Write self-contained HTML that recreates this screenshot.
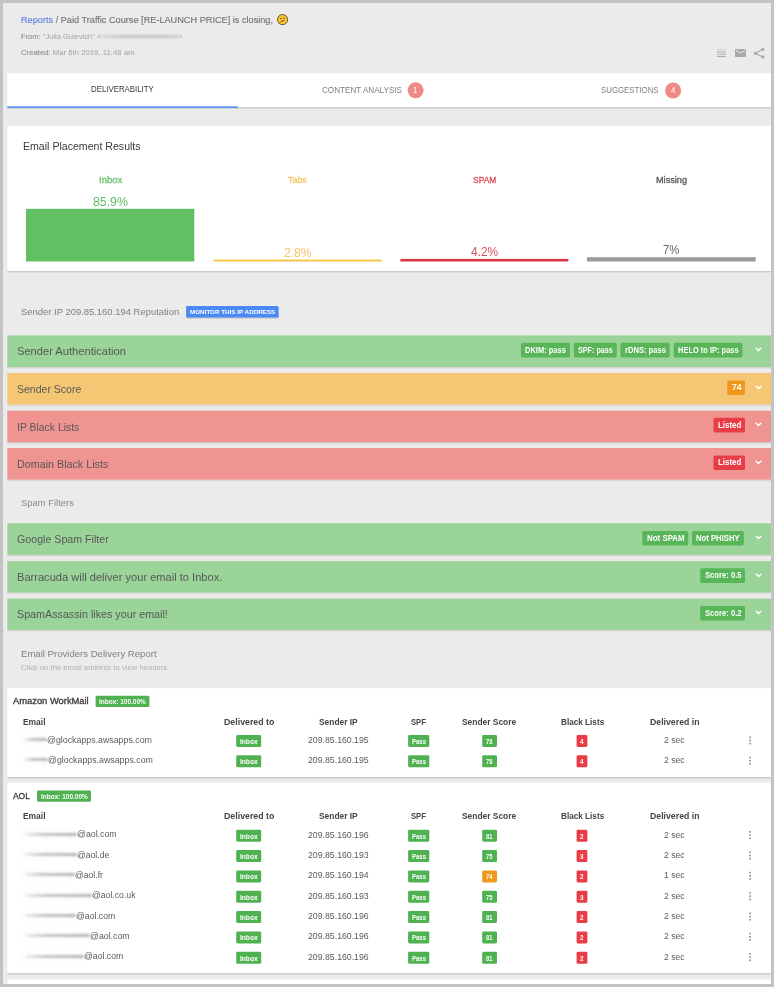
<!DOCTYPE html>
<html><head><meta charset="utf-8"><title>Report</title>
<style>
html,body{margin:0;padding:0}
body{width:774px;height:987px;overflow:hidden;background:#c3c3c3;font-family:"Liberation Sans", sans-serif;position:relative}
#p{position:absolute;left:3px;top:3px;width:768px;height:981px;overflow:hidden;background:#ebebeb}
#q{position:absolute;left:-3px;top:-3px;width:774px;height:987px;filter:blur(0.35px)}
#q div,#q svg,#q span{position:absolute}
#q span{white-space:pre;line-height:1;transform-origin:0 0}
#q span span{position:static;transform:none}
</style></head><body>
<div id="p"><div id="q">
<svg style="left:0;top:0" width="774" height="987" viewBox="0 0 774 987">
<rect x="7.35" y="106.10" width="764.65" height="2.1" fill="#000" fill-opacity="0.100"/>
<rect x="7.35" y="107.10" width="764.65" height="2.1" fill="#000" fill-opacity="0.042"/>
<rect x="7.35" y="73.10" width="764.65" height="34.00" fill="#fff"/>
<rect x="7.35" y="106.30" width="230.45" height="1.80" fill="#5f92ee"/>
<circle cx="415.6" cy="90.3" r="8" fill="#ef8b87"/>
<circle cx="673.1" cy="90.5" r="8" fill="#ef8b87"/>
<rect x="7.35" y="270.00" width="764.65" height="2.1" fill="#000" fill-opacity="0.100"/>
<rect x="7.35" y="271.00" width="764.65" height="2.1" fill="#000" fill-opacity="0.042"/>
<rect x="7.35" y="126.00" width="764.65" height="145.00" fill="#fff"/>
<rect x="26.00" y="208.80" width="168.30" height="52.70" fill="#61c062"/>
<rect x="213.40" y="259.60" width="168.30" height="1.90" fill="#f5c242"/>
<rect x="400.40" y="258.90" width="168.00" height="2.60" fill="#dc3545"/>
<rect x="587.00" y="257.20" width="168.70" height="4.30" fill="#9b9b9b"/>
<rect x="186.1" y="307.3" width="92.5" height="11.4" rx="1.2" fill="#000" fill-opacity="0.13"/>
<rect x="186.10" y="306.10" width="92.50" height="11.40" rx="1.2" fill="#4a8af4"/>
<rect x="7.35" y="366.00" width="764.65" height="2.1" fill="#000" fill-opacity="0.075"/>
<rect x="7.35" y="367.00" width="764.65" height="2.1" fill="#000" fill-opacity="0.032"/>
<rect x="7.35" y="335.40" width="764.65" height="31.60" fill="#9ad499"/>
<rect x="520.90" y="342.80" width="49.10" height="14.60" rx="1.6" fill="#58b558"/>
<rect x="573.80" y="342.80" width="43.00" height="14.60" rx="1.6" fill="#58b558"/>
<rect x="620.50" y="342.80" width="49.10" height="14.60" rx="1.6" fill="#58b558"/>
<rect x="673.70" y="342.80" width="68.80" height="14.60" rx="1.6" fill="#58b558"/>
<rect x="7.35" y="403.60" width="764.65" height="2.1" fill="#000" fill-opacity="0.075"/>
<rect x="7.35" y="404.60" width="764.65" height="2.1" fill="#000" fill-opacity="0.032"/>
<rect x="7.35" y="373.00" width="764.65" height="31.60" fill="#f5c774"/>
<rect x="727.20" y="380.50" width="17.80" height="14.50" rx="1.6" fill="#f0981e"/>
<rect x="7.35" y="441.20" width="764.65" height="2.1" fill="#000" fill-opacity="0.075"/>
<rect x="7.35" y="442.20" width="764.65" height="2.1" fill="#000" fill-opacity="0.032"/>
<rect x="7.35" y="410.70" width="764.65" height="31.50" fill="#ef9491"/>
<rect x="713.50" y="417.80" width="31.50" height="14.60" rx="1.6" fill="#e83d47"/>
<rect x="7.35" y="478.60" width="764.65" height="2.1" fill="#000" fill-opacity="0.075"/>
<rect x="7.35" y="479.60" width="764.65" height="2.1" fill="#000" fill-opacity="0.032"/>
<rect x="7.35" y="448.00" width="764.65" height="31.60" fill="#ef9491"/>
<rect x="713.50" y="455.40" width="31.50" height="14.60" rx="1.6" fill="#e83d47"/>
<rect x="7.35" y="553.80" width="764.65" height="2.1" fill="#000" fill-opacity="0.075"/>
<rect x="7.35" y="554.80" width="764.65" height="2.1" fill="#000" fill-opacity="0.032"/>
<rect x="7.35" y="523.30" width="764.65" height="31.50" fill="#9ad499"/>
<rect x="642.30" y="530.90" width="45.90" height="14.50" rx="1.6" fill="#58b558"/>
<rect x="692.00" y="530.90" width="51.80" height="14.50" rx="1.6" fill="#58b558"/>
<rect x="7.35" y="591.40" width="764.65" height="2.1" fill="#000" fill-opacity="0.075"/>
<rect x="7.35" y="592.40" width="764.65" height="2.1" fill="#000" fill-opacity="0.032"/>
<rect x="7.35" y="561.10" width="764.65" height="31.30" fill="#9ad499"/>
<rect x="700.20" y="568.30" width="44.80" height="14.70" rx="1.6" fill="#58b558"/>
<rect x="7.35" y="629.00" width="764.65" height="2.1" fill="#000" fill-opacity="0.075"/>
<rect x="7.35" y="630.00" width="764.65" height="2.1" fill="#000" fill-opacity="0.032"/>
<rect x="7.35" y="598.60" width="764.65" height="31.40" fill="#9ad499"/>
<rect x="700.20" y="605.90" width="44.80" height="14.60" rx="1.6" fill="#58b558"/>
<rect x="7.35" y="776.00" width="764.65" height="2.1" fill="#000" fill-opacity="0.100"/>
<rect x="7.35" y="777.00" width="764.65" height="2.1" fill="#000" fill-opacity="0.042"/>
<rect x="7.35" y="688.10" width="764.65" height="88.90" fill="#fff"/>
<rect x="95.60" y="695.80" width="53.80" height="11.30" rx="1.4" fill="#4fb150"/>
<rect x="236.20" y="735.00" width="25.00" height="12.00" rx="1.4" fill="#4fb150"/>
<rect x="408.10" y="735.00" width="21.20" height="12.00" rx="1.4" fill="#4fb150"/>
<rect x="482.20" y="735.00" width="14.80" height="12.00" rx="1.4" fill="#4fb150"/>
<rect x="576.60" y="735.00" width="10.80" height="12.00" rx="1.4" fill="#e83d47"/>
<rect x="749.25" y="736.35" width="1.7" height="1.7" fill="#939393"/>
<rect x="749.25" y="739.55" width="1.7" height="1.7" fill="#939393"/>
<rect x="749.25" y="742.75" width="1.7" height="1.7" fill="#939393"/>
<rect x="236.20" y="755.35" width="25.00" height="12.00" rx="1.4" fill="#4fb150"/>
<rect x="408.10" y="755.35" width="21.20" height="12.00" rx="1.4" fill="#4fb150"/>
<rect x="482.20" y="755.35" width="14.80" height="12.00" rx="1.4" fill="#4fb150"/>
<rect x="576.60" y="755.35" width="10.80" height="12.00" rx="1.4" fill="#e83d47"/>
<rect x="749.25" y="756.70" width="1.7" height="1.7" fill="#939393"/>
<rect x="749.25" y="759.90" width="1.7" height="1.7" fill="#939393"/>
<rect x="749.25" y="763.10" width="1.7" height="1.7" fill="#939393"/>
<rect x="7.35" y="972.10" width="764.65" height="2.1" fill="#000" fill-opacity="0.100"/>
<rect x="7.35" y="973.10" width="764.65" height="2.1" fill="#000" fill-opacity="0.042"/>
<rect x="7.35" y="782.80" width="764.65" height="190.30" fill="#fff"/>
<rect x="37.00" y="790.50" width="54.00" height="11.30" rx="1.4" fill="#4fb150"/>
<rect x="236.20" y="829.70" width="25.00" height="12.00" rx="1.4" fill="#4fb150"/>
<rect x="408.10" y="829.70" width="21.20" height="12.00" rx="1.4" fill="#4fb150"/>
<rect x="482.20" y="829.70" width="14.80" height="12.00" rx="1.4" fill="#4fb150"/>
<rect x="576.60" y="829.70" width="10.80" height="12.00" rx="1.4" fill="#e83d47"/>
<rect x="749.25" y="831.05" width="1.7" height="1.7" fill="#939393"/>
<rect x="749.25" y="834.25" width="1.7" height="1.7" fill="#939393"/>
<rect x="749.25" y="837.45" width="1.7" height="1.7" fill="#939393"/>
<rect x="236.20" y="850.05" width="25.00" height="12.00" rx="1.4" fill="#4fb150"/>
<rect x="408.10" y="850.05" width="21.20" height="12.00" rx="1.4" fill="#4fb150"/>
<rect x="482.20" y="850.05" width="14.80" height="12.00" rx="1.4" fill="#4fb150"/>
<rect x="576.60" y="850.05" width="10.80" height="12.00" rx="1.4" fill="#e83d47"/>
<rect x="749.25" y="851.40" width="1.7" height="1.7" fill="#939393"/>
<rect x="749.25" y="854.60" width="1.7" height="1.7" fill="#939393"/>
<rect x="749.25" y="857.80" width="1.7" height="1.7" fill="#939393"/>
<rect x="236.20" y="870.40" width="25.00" height="12.00" rx="1.4" fill="#4fb150"/>
<rect x="408.10" y="870.40" width="21.20" height="12.00" rx="1.4" fill="#4fb150"/>
<rect x="482.20" y="870.40" width="14.80" height="12.00" rx="1.4" fill="#f0981e"/>
<rect x="576.60" y="870.40" width="10.80" height="12.00" rx="1.4" fill="#e83d47"/>
<rect x="749.25" y="871.75" width="1.7" height="1.7" fill="#939393"/>
<rect x="749.25" y="874.95" width="1.7" height="1.7" fill="#939393"/>
<rect x="749.25" y="878.15" width="1.7" height="1.7" fill="#939393"/>
<rect x="236.20" y="890.75" width="25.00" height="12.00" rx="1.4" fill="#4fb150"/>
<rect x="408.10" y="890.75" width="21.20" height="12.00" rx="1.4" fill="#4fb150"/>
<rect x="482.20" y="890.75" width="14.80" height="12.00" rx="1.4" fill="#4fb150"/>
<rect x="576.60" y="890.75" width="10.80" height="12.00" rx="1.4" fill="#e83d47"/>
<rect x="749.25" y="892.10" width="1.7" height="1.7" fill="#939393"/>
<rect x="749.25" y="895.30" width="1.7" height="1.7" fill="#939393"/>
<rect x="749.25" y="898.50" width="1.7" height="1.7" fill="#939393"/>
<rect x="236.20" y="911.10" width="25.00" height="12.00" rx="1.4" fill="#4fb150"/>
<rect x="408.10" y="911.10" width="21.20" height="12.00" rx="1.4" fill="#4fb150"/>
<rect x="482.20" y="911.10" width="14.80" height="12.00" rx="1.4" fill="#4fb150"/>
<rect x="576.60" y="911.10" width="10.80" height="12.00" rx="1.4" fill="#e83d47"/>
<rect x="749.25" y="912.45" width="1.7" height="1.7" fill="#939393"/>
<rect x="749.25" y="915.65" width="1.7" height="1.7" fill="#939393"/>
<rect x="749.25" y="918.85" width="1.7" height="1.7" fill="#939393"/>
<rect x="236.20" y="931.45" width="25.00" height="12.00" rx="1.4" fill="#4fb150"/>
<rect x="408.10" y="931.45" width="21.20" height="12.00" rx="1.4" fill="#4fb150"/>
<rect x="482.20" y="931.45" width="14.80" height="12.00" rx="1.4" fill="#4fb150"/>
<rect x="576.60" y="931.45" width="10.80" height="12.00" rx="1.4" fill="#e83d47"/>
<rect x="749.25" y="932.80" width="1.7" height="1.7" fill="#939393"/>
<rect x="749.25" y="936.00" width="1.7" height="1.7" fill="#939393"/>
<rect x="749.25" y="939.20" width="1.7" height="1.7" fill="#939393"/>
<rect x="236.20" y="951.80" width="25.00" height="12.00" rx="1.4" fill="#4fb150"/>
<rect x="408.10" y="951.80" width="21.20" height="12.00" rx="1.4" fill="#4fb150"/>
<rect x="482.20" y="951.80" width="14.80" height="12.00" rx="1.4" fill="#4fb150"/>
<rect x="576.60" y="951.80" width="10.80" height="12.00" rx="1.4" fill="#e83d47"/>
<rect x="749.25" y="953.15" width="1.7" height="1.7" fill="#939393"/>
<rect x="749.25" y="956.35" width="1.7" height="1.7" fill="#939393"/>
<rect x="749.25" y="959.55" width="1.7" height="1.7" fill="#939393"/>
<rect x="7.35" y="979.60" width="764.65" height="5.40" fill="#fff"/>
</svg>
<div style="left:101.5px;top:34.5px;width:77px;height:3px;background:linear-gradient(90deg,#d2d2d2,#c6c6c6 30%,#c4c4c4 80%,#cdcdcd);border-radius:2px;filter:blur(0.9px)"></div>
<div style="left:20.5px;top:733.40px;width:26.50px;height:12.4px;background:#fdfdfd;filter:blur(0.6px)"></div>
<div style="left:24.5px;top:737.90px;width:22.00px;height:3px;background:linear-gradient(90deg,#ededed,#c6c6c6 35%,#bcbcbc 80%,#b2b2b2);border-radius:2px;filter:blur(0.8px)"></div>
<div style="left:20.5px;top:753.75px;width:28.30px;height:12.4px;background:#fdfdfd;filter:blur(0.6px)"></div>
<div style="left:24.5px;top:758.25px;width:23.80px;height:3px;background:linear-gradient(90deg,#ededed,#c6c6c6 35%,#bcbcbc 80%,#b2b2b2);border-radius:2px;filter:blur(0.8px)"></div>
<div style="left:20.5px;top:828.10px;width:56.70px;height:12.4px;background:#fdfdfd;filter:blur(0.6px)"></div>
<div style="left:24.5px;top:832.60px;width:52.20px;height:3px;background:linear-gradient(90deg,#ededed,#c6c6c6 35%,#bcbcbc 80%,#b2b2b2);border-radius:2px;filter:blur(0.8px)"></div>
<div style="left:20.5px;top:848.45px;width:56.70px;height:12.4px;background:#fdfdfd;filter:blur(0.6px)"></div>
<div style="left:24.5px;top:852.95px;width:52.20px;height:3px;background:linear-gradient(90deg,#ededed,#c6c6c6 35%,#bcbcbc 80%,#b2b2b2);border-radius:2px;filter:blur(0.8px)"></div>
<div style="left:20.5px;top:868.80px;width:54.90px;height:12.4px;background:#fdfdfd;filter:blur(0.6px)"></div>
<div style="left:24.5px;top:873.30px;width:50.40px;height:3px;background:linear-gradient(90deg,#ededed,#c6c6c6 35%,#bcbcbc 80%,#b2b2b2);border-radius:2px;filter:blur(0.8px)"></div>
<div style="left:20.5px;top:889.15px;width:72.20px;height:12.4px;background:#fdfdfd;filter:blur(0.6px)"></div>
<div style="left:24.5px;top:893.65px;width:67.70px;height:3px;background:linear-gradient(90deg,#ededed,#c6c6c6 35%,#bcbcbc 80%,#b2b2b2);border-radius:2px;filter:blur(0.8px)"></div>
<div style="left:20.5px;top:909.50px;width:56.20px;height:12.4px;background:#fdfdfd;filter:blur(0.6px)"></div>
<div style="left:24.5px;top:914.00px;width:51.70px;height:3px;background:linear-gradient(90deg,#ededed,#c6c6c6 35%,#bcbcbc 80%,#b2b2b2);border-radius:2px;filter:blur(0.8px)"></div>
<div style="left:20.5px;top:929.85px;width:70.40px;height:12.4px;background:#fdfdfd;filter:blur(0.6px)"></div>
<div style="left:24.5px;top:934.35px;width:65.90px;height:3px;background:linear-gradient(90deg,#ededed,#c6c6c6 35%,#bcbcbc 80%,#b2b2b2);border-radius:2px;filter:blur(0.8px)"></div>
<div style="left:20.5px;top:950.20px;width:64.00px;height:12.4px;background:#fdfdfd;filter:blur(0.6px)"></div>
<div style="left:24.5px;top:954.70px;width:59.50px;height:3px;background:linear-gradient(90deg,#ededed,#c6c6c6 35%,#bcbcbc 80%,#b2b2b2);border-radius:2px;filter:blur(0.8px)"></div>
<span style="left:21.20px;top:15.00px;font-size:9.55px;color:#747474;-webkit-text-stroke:0.15px #747474;transform:scaleX(0.9602)"><span style="color:#5f83e3;-webkit-text-stroke:0.15px #5f83e3">Reports</span> / Paid Traffic Course [RE-LAUNCH PRICE] is closing,</span>
<span style="left:21.00px;top:34.00px;font-size:6.88px;color:#a2a2a2;transform:scaleX(1.0930)"><span style="color:#8e8e8e;-webkit-text-stroke:0.1px #8e8e8e">From:</span> "Julia Gulevich" &lt;</span>
<span style="left:178.60px;top:34.00px;font-size:6.88px;color:#a2a2a2;transform:scaleX(0.7800)">&gt;</span>
<span style="left:21.00px;top:50.00px;font-size:6.88px;color:#a2a2a2;transform:scaleX(1.1254)"><span style="color:#8e8e8e;-webkit-text-stroke:0.1px #8e8e8e">Created:</span> Mar 6th 2019, 11:48 am</span>
<span style="left:91.00px;top:85.00px;font-size:8.59px;color:#3a3a3a;transform:scaleX(0.9147)">DELIVERABILITY</span>
<span style="left:321.50px;top:86.00px;font-size:8.59px;color:#7d7d7d;transform:scaleX(0.9462)">CONTENT ANALYSIS</span>
<span style="left:600.80px;top:86.00px;font-size:8.59px;color:#7d7d7d;transform:scaleX(0.9154)">SUGGESTIONS</span>
<span style="left:413.40px;top:87.00px;font-size:8.21px;color:#fff;transform:scaleX(0.9644)">1</span>
<span style="left:670.90px;top:87.00px;font-size:8.21px;color:#fff;transform:scaleX(0.9644)">4</span>
<span style="left:23.40px;top:141.00px;font-size:11.08px;color:#3b3b3b;transform:scaleX(0.9550)">Email Placement Results</span>
<span style="left:98.50px;top:176.00px;font-size:8.59px;color:#6fc06f;-webkit-text-stroke:0.3px #6fc06f;transform:scaleX(1.1095)">Inbox</span>
<span style="left:288.10px;top:176.00px;font-size:8.59px;color:#f4c266;-webkit-text-stroke:0.3px #f4c266;transform:scaleX(1.0372)">Tabs</span>
<span style="left:472.75px;top:176.00px;font-size:8.59px;color:#d9505a;-webkit-text-stroke:0.3px #d9505a;transform:scaleX(0.9836)">SPAM</span>
<span style="left:655.85px;top:176.00px;font-size:8.59px;color:#5c5c5c;-webkit-text-stroke:0.3px #5c5c5c;transform:scaleX(1.0661)">Missing</span>
<span style="left:92.70px;top:196.00px;font-size:12.41px;color:#62bd62;transform:scaleX(0.9918)">85.9%</span>
<span style="left:283.70px;top:247.00px;font-size:12.41px;color:#f4c266;transform:scaleX(0.9759)">2.8%</span>
<span style="left:470.80px;top:246.00px;font-size:12.41px;color:#d9505a;transform:scaleX(0.9618)">4.2%</span>
<span style="left:663.20px;top:244.00px;font-size:12.41px;color:#666;transform:scaleX(0.9087)">7%</span>
<span style="left:21.20px;top:308.00px;font-size:9.17px;color:#7f7f7f;transform:scaleX(1.0301)">Sender IP 209.85.160.194 Reputation</span>
<span style="left:189.90px;top:310.00px;font-size:5.83px;color:#fff;font-weight:700;transform:scaleX(1.0766)">MONITOR THIS IP ADDRESS</span>
<span style="left:16.70px;top:347.00px;font-size:10.46px;color:#585858;transform:scaleX(1.0645)">Sender Authentication</span>
<span style="left:525.30px;top:347.00px;font-size:8.21px;color:#fff;font-weight:700;transform:scaleX(0.9156)">DKIM: pass</span>
<span style="left:578.20px;top:347.00px;font-size:8.21px;color:#fff;font-weight:700;transform:scaleX(0.8772)">SPF: pass</span>
<span style="left:624.90px;top:347.00px;font-size:8.21px;color:#fff;font-weight:700;transform:scaleX(0.9246)">rDNS: pass</span>
<span style="left:678.10px;top:347.00px;font-size:8.21px;color:#fff;font-weight:700;transform:scaleX(0.9106)">HELO to IP: pass</span>
<span style="left:16.70px;top:385.00px;font-size:10.46px;color:#585858;transform:scaleX(1.0059)">Sender Score</span>
<span style="left:731.60px;top:384.00px;font-size:8.21px;color:#fff;font-weight:700;transform:scaleX(1.0521)">74</span>
<span style="left:16.70px;top:423.00px;font-size:10.46px;color:#585858;transform:scaleX(0.9958)">IP Black Lists</span>
<span style="left:717.90px;top:422.00px;font-size:8.21px;color:#fff;font-weight:700;transform:scaleX(0.9639)">Listed</span>
<span style="left:16.70px;top:460.00px;font-size:10.46px;color:#585858;transform:scaleX(1.0271)">Domain Black Lists</span>
<span style="left:717.90px;top:459.00px;font-size:8.21px;color:#fff;font-weight:700;transform:scaleX(0.9639)">Listed</span>
<span style="left:20.90px;top:499.00px;font-size:8.79px;color:#8a8a8a;transform:scaleX(1.0731)">Spam Filters</span>
<span style="left:16.70px;top:535.00px;font-size:10.46px;color:#585858;transform:scaleX(1.0193)">Google Spam Filter</span>
<span style="left:646.70px;top:535.00px;font-size:8.21px;color:#fff;font-weight:700;transform:scaleX(0.9655)">Not SPAM</span>
<span style="left:696.40px;top:535.00px;font-size:8.21px;color:#fff;font-weight:700;transform:scaleX(0.9376)">Not PHISHY</span>
<span style="left:16.70px;top:573.00px;font-size:10.46px;color:#585858;transform:scaleX(1.0611)">Barracuda will deliver your email to Inbox.</span>
<span style="left:704.60px;top:572.00px;font-size:8.21px;color:#fff;font-weight:700;transform:scaleX(0.9332)">Score: 0.5</span>
<span style="left:16.70px;top:610.00px;font-size:10.46px;color:#585858;transform:scaleX(1.0260)">SpamAssassin likes your email!</span>
<span style="left:704.60px;top:610.00px;font-size:8.21px;color:#fff;font-weight:700;transform:scaleX(0.9332)">Score: 0.2</span>
<span style="left:20.90px;top:650.00px;font-size:9.26px;color:#7f7f7f;transform:scaleX(1.0344)">Email Providers Delivery Report</span>
<span style="left:20.90px;top:665.00px;font-size:6.88px;color:#b0b0b0;transform:scaleX(1.1186)">Click on the email address to view headers</span>
<span style="left:13.40px;top:697.00px;font-size:9.07px;color:#3a3a3a;-webkit-text-stroke:0.3px #3a3a3a;transform:scaleX(1.0319)">Amazon WorkMail</span>
<span style="left:99.10px;top:699.00px;font-size:6.68px;color:#fff;font-weight:700;transform:scaleX(0.9706)">Inbox: 100.00%</span>
<span style="left:22.70px;top:718.00px;font-size:8.88px;color:#444;font-weight:700;transform:scaleX(0.9499)">Email</span>
<span style="left:223.80px;top:718.00px;font-size:8.88px;color:#444;font-weight:700;transform:scaleX(0.9919)">Delivered to</span>
<span style="left:318.95px;top:718.00px;font-size:8.88px;color:#444;font-weight:700;transform:scaleX(0.9450)">Sender IP</span>
<span style="left:411.40px;top:718.00px;font-size:8.88px;color:#444;font-weight:700;transform:scaleX(0.8572)">SPF</span>
<span style="left:462.40px;top:718.00px;font-size:8.88px;color:#444;font-weight:700;transform:scaleX(0.9470)">Sender Score</span>
<span style="left:560.50px;top:718.00px;font-size:8.88px;color:#444;font-weight:700;transform:scaleX(0.9216)">Black Lists</span>
<span style="left:649.55px;top:718.00px;font-size:8.88px;color:#444;font-weight:700;transform:scaleX(0.9839)">Delivered in</span>
<span style="left:46.50px;top:736.00px;font-size:9.07px;color:#5a5a5a;transform:scaleX(0.9719)">@glockapps.awsapps.com</span>
<span style="left:239.90px;top:739.00px;font-size:6.68px;color:#fff;font-weight:700;transform:scaleX(0.9889)">Inbox</span>
<span style="left:308.00px;top:736.00px;font-size:8.88px;color:#5a5a5a;transform:scaleX(0.9837)">209.85.160.195</span>
<span style="left:411.70px;top:739.00px;font-size:6.68px;color:#fff;font-weight:700;transform:scaleX(0.8978)">Pass</span>
<span style="left:486.40px;top:739.00px;font-size:6.68px;color:#fff;font-weight:700;transform:scaleX(0.8623)">78</span>
<span style="left:580.25px;top:739.00px;font-size:6.68px;color:#fff;font-weight:700;transform:scaleX(0.9412)">4</span>
<span style="left:664.00px;top:736.00px;font-size:8.88px;color:#5a5a5a;transform:scaleX(0.9708)">2 sec</span>
<span style="left:48.30px;top:756.00px;font-size:9.07px;color:#5a5a5a;transform:scaleX(0.9719)">@glockapps.awsapps.com</span>
<span style="left:239.90px;top:759.00px;font-size:6.68px;color:#fff;font-weight:700;transform:scaleX(0.9889)">Inbox</span>
<span style="left:308.00px;top:756.00px;font-size:8.88px;color:#5a5a5a;transform:scaleX(0.9837)">209.85.160.195</span>
<span style="left:411.70px;top:759.00px;font-size:6.68px;color:#fff;font-weight:700;transform:scaleX(0.8978)">Pass</span>
<span style="left:486.40px;top:759.00px;font-size:6.68px;color:#fff;font-weight:700;transform:scaleX(0.8623)">78</span>
<span style="left:580.25px;top:759.00px;font-size:6.68px;color:#fff;font-weight:700;transform:scaleX(0.9412)">4</span>
<span style="left:664.00px;top:756.00px;font-size:8.88px;color:#5a5a5a;transform:scaleX(0.9708)">2 sec</span>
<span style="left:13.40px;top:792.00px;font-size:9.07px;color:#3a3a3a;-webkit-text-stroke:0.3px #3a3a3a;transform:scaleX(0.9261)">AOL</span>
<span style="left:40.60px;top:794.00px;font-size:6.68px;color:#fff;font-weight:700;transform:scaleX(0.9706)">Inbox: 100.00%</span>
<span style="left:22.70px;top:812.00px;font-size:8.88px;color:#444;font-weight:700;transform:scaleX(0.9499)">Email</span>
<span style="left:223.80px;top:812.00px;font-size:8.88px;color:#444;font-weight:700;transform:scaleX(0.9919)">Delivered to</span>
<span style="left:318.95px;top:812.00px;font-size:8.88px;color:#444;font-weight:700;transform:scaleX(0.9450)">Sender IP</span>
<span style="left:411.40px;top:812.00px;font-size:8.88px;color:#444;font-weight:700;transform:scaleX(0.8572)">SPF</span>
<span style="left:462.40px;top:812.00px;font-size:8.88px;color:#444;font-weight:700;transform:scaleX(0.9470)">Sender Score</span>
<span style="left:560.50px;top:812.00px;font-size:8.88px;color:#444;font-weight:700;transform:scaleX(0.9216)">Black Lists</span>
<span style="left:649.55px;top:812.00px;font-size:8.88px;color:#444;font-weight:700;transform:scaleX(0.9839)">Delivered in</span>
<span style="left:76.70px;top:830.00px;font-size:9.07px;color:#5a5a5a;transform:scaleX(0.9673)">@aol.com</span>
<span style="left:239.90px;top:834.00px;font-size:6.68px;color:#fff;font-weight:700;transform:scaleX(0.9889)">Inbox</span>
<span style="left:308.00px;top:831.00px;font-size:8.88px;color:#5a5a5a;transform:scaleX(0.9837)">209.85.160.196</span>
<span style="left:411.70px;top:834.00px;font-size:6.68px;color:#fff;font-weight:700;transform:scaleX(0.8978)">Pass</span>
<span style="left:486.40px;top:834.00px;font-size:6.68px;color:#fff;font-weight:700;transform:scaleX(0.8623)">81</span>
<span style="left:580.25px;top:834.00px;font-size:6.68px;color:#fff;font-weight:700;transform:scaleX(0.9412)">2</span>
<span style="left:664.00px;top:831.00px;font-size:8.88px;color:#5a5a5a;transform:scaleX(0.9708)">2 sec</span>
<span style="left:76.70px;top:851.00px;font-size:9.07px;color:#5a5a5a;transform:scaleX(0.9526)">@aol.de</span>
<span style="left:239.90px;top:854.00px;font-size:6.68px;color:#fff;font-weight:700;transform:scaleX(0.9889)">Inbox</span>
<span style="left:308.00px;top:851.00px;font-size:8.88px;color:#5a5a5a;transform:scaleX(0.9837)">209.85.160.193</span>
<span style="left:411.70px;top:854.00px;font-size:6.68px;color:#fff;font-weight:700;transform:scaleX(0.8978)">Pass</span>
<span style="left:486.40px;top:854.00px;font-size:6.68px;color:#fff;font-weight:700;transform:scaleX(0.8623)">75</span>
<span style="left:580.25px;top:854.00px;font-size:6.68px;color:#fff;font-weight:700;transform:scaleX(0.9412)">3</span>
<span style="left:664.00px;top:851.00px;font-size:8.88px;color:#5a5a5a;transform:scaleX(0.9708)">2 sec</span>
<span style="left:74.90px;top:871.00px;font-size:9.07px;color:#5a5a5a;transform:scaleX(0.9503)">@aol.fr</span>
<span style="left:239.90px;top:874.00px;font-size:6.68px;color:#fff;font-weight:700;transform:scaleX(0.9889)">Inbox</span>
<span style="left:308.00px;top:871.00px;font-size:8.88px;color:#5a5a5a;transform:scaleX(0.9837)">209.85.160.194</span>
<span style="left:411.70px;top:874.00px;font-size:6.68px;color:#fff;font-weight:700;transform:scaleX(0.8978)">Pass</span>
<span style="left:486.40px;top:874.00px;font-size:6.68px;color:#fff;font-weight:700;transform:scaleX(0.8623)">74</span>
<span style="left:580.25px;top:874.00px;font-size:6.68px;color:#fff;font-weight:700;transform:scaleX(0.9412)">2</span>
<span style="left:664.00px;top:871.00px;font-size:8.88px;color:#5a5a5a;transform:scaleX(0.9708)">1 sec</span>
<span style="left:92.20px;top:891.00px;font-size:9.07px;color:#5a5a5a;transform:scaleX(0.9564)">@aol.co.uk</span>
<span style="left:239.90px;top:895.00px;font-size:6.68px;color:#fff;font-weight:700;transform:scaleX(0.9889)">Inbox</span>
<span style="left:308.00px;top:892.00px;font-size:8.88px;color:#5a5a5a;transform:scaleX(0.9837)">209.85.160.193</span>
<span style="left:411.70px;top:895.00px;font-size:6.68px;color:#fff;font-weight:700;transform:scaleX(0.8978)">Pass</span>
<span style="left:486.40px;top:895.00px;font-size:6.68px;color:#fff;font-weight:700;transform:scaleX(0.8623)">75</span>
<span style="left:580.25px;top:895.00px;font-size:6.68px;color:#fff;font-weight:700;transform:scaleX(0.9412)">3</span>
<span style="left:664.00px;top:892.00px;font-size:8.88px;color:#5a5a5a;transform:scaleX(0.9708)">2 sec</span>
<span style="left:76.20px;top:912.00px;font-size:9.07px;color:#5a5a5a;transform:scaleX(0.9600)">@aol.com</span>
<span style="left:239.90px;top:915.00px;font-size:6.68px;color:#fff;font-weight:700;transform:scaleX(0.9889)">Inbox</span>
<span style="left:308.00px;top:912.00px;font-size:8.88px;color:#5a5a5a;transform:scaleX(0.9837)">209.85.160.196</span>
<span style="left:411.70px;top:915.00px;font-size:6.68px;color:#fff;font-weight:700;transform:scaleX(0.8978)">Pass</span>
<span style="left:486.40px;top:915.00px;font-size:6.68px;color:#fff;font-weight:700;transform:scaleX(0.8623)">81</span>
<span style="left:580.25px;top:915.00px;font-size:6.68px;color:#fff;font-weight:700;transform:scaleX(0.9412)">2</span>
<span style="left:664.00px;top:912.00px;font-size:8.88px;color:#5a5a5a;transform:scaleX(0.9708)">2 sec</span>
<span style="left:90.40px;top:932.00px;font-size:9.07px;color:#5a5a5a;transform:scaleX(0.9673)">@aol.com</span>
<span style="left:239.90px;top:935.00px;font-size:6.68px;color:#fff;font-weight:700;transform:scaleX(0.9889)">Inbox</span>
<span style="left:308.00px;top:932.00px;font-size:8.88px;color:#5a5a5a;transform:scaleX(0.9837)">209.85.160.196</span>
<span style="left:411.70px;top:935.00px;font-size:6.68px;color:#fff;font-weight:700;transform:scaleX(0.8978)">Pass</span>
<span style="left:486.40px;top:935.00px;font-size:6.68px;color:#fff;font-weight:700;transform:scaleX(0.8623)">81</span>
<span style="left:580.25px;top:935.00px;font-size:6.68px;color:#fff;font-weight:700;transform:scaleX(0.9412)">2</span>
<span style="left:664.00px;top:932.00px;font-size:8.88px;color:#5a5a5a;transform:scaleX(0.9708)">2 sec</span>
<span style="left:84.00px;top:952.00px;font-size:9.07px;color:#5a5a5a;transform:scaleX(0.9600)">@aol.com</span>
<span style="left:239.90px;top:956.00px;font-size:6.68px;color:#fff;font-weight:700;transform:scaleX(0.9889)">Inbox</span>
<span style="left:308.00px;top:953.00px;font-size:8.88px;color:#5a5a5a;transform:scaleX(0.9837)">209.85.160.196</span>
<span style="left:411.70px;top:956.00px;font-size:6.68px;color:#fff;font-weight:700;transform:scaleX(0.8978)">Pass</span>
<span style="left:486.40px;top:956.00px;font-size:6.68px;color:#fff;font-weight:700;transform:scaleX(0.8623)">81</span>
<span style="left:580.25px;top:956.00px;font-size:6.68px;color:#fff;font-weight:700;transform:scaleX(0.9412)">2</span>
<span style="left:664.00px;top:953.00px;font-size:8.88px;color:#5a5a5a;transform:scaleX(0.9708)">2 sec</span>
<svg style="left:276.8px;top:13.7px" width="11.2" height="11.2" viewBox="0 0 24 24">
<circle cx="12" cy="12" r="10.9" fill="#fcc630" stroke="#65522f" stroke-width="2.1"/>
<ellipse cx="8.4" cy="9.8" rx="1.6" ry="1.5" fill="#6b5430"/><ellipse cx="15.6" cy="9.0" rx="1.8" ry="1.3" fill="#6b5430"/>
<path d="M8.2 16.6 L15.4 13.4" stroke="#6b5430" stroke-width="2.1" stroke-linecap="round" fill="none"/></svg>
<svg style="left:716.9px;top:48.6px" width="9.4" height="9" viewBox="0 0 9.4 9">
<rect x="0" y="0.3" width="9.4" height="0.95" fill="#cfcfcf"/><rect x="0" y="2.55" width="9.4" height="0.95" fill="#a8a8a8"/>
<rect x="0" y="4.75" width="9.4" height="0.95" fill="#a8a8a8"/><rect x="0" y="6.95" width="9.4" height="0.95" fill="#a8a8a8"/></svg>
<svg style="left:734.9px;top:48.9px" width="10.9" height="8.2" viewBox="0 0 20 16" preserveAspectRatio="none">
<path d="M2 0h16c1.1 0 2 .9 2 2v12c0 1.1-.9 2-2 2H2c-1.1 0-2-.9-2-2V2C0 .9.9 0 2 0zm16 4V2l-8 5-8-5v2l8 5 8-5z" fill="#a8a8a8"/></svg>
<svg style="left:752.5px;top:46px" width="14" height="14" viewBox="0 0 14 14">
<path d="M9.7 3.3 L2.5 7.3 L9.7 10.9" stroke="#a8a8a8" stroke-width="1.15" fill="none"/>
<circle cx="2.5" cy="7.3" r="1.65" fill="#a8a8a8"/><circle cx="9.8" cy="3.3" r="1.65" fill="#a8a8a8"/><circle cx="9.8" cy="10.9" r="1.65" fill="#a8a8a8"/></svg>
<svg style="left:754.10px;top:346.00px" width="9" height="7" viewBox="0 0 9 7"><path d="M2.1 2.2 L4.5 4.6 L6.9 2.2" stroke="#fff" stroke-width="1.45" fill="none" stroke-linecap="round" stroke-linejoin="round"/></svg>
<svg style="left:754.10px;top:383.60px" width="9" height="7" viewBox="0 0 9 7"><path d="M2.1 2.2 L4.5 4.6 L6.9 2.2" stroke="#fff" stroke-width="1.45" fill="none" stroke-linecap="round" stroke-linejoin="round"/></svg>
<svg style="left:754.10px;top:421.25px" width="9" height="7" viewBox="0 0 9 7"><path d="M2.1 2.2 L4.5 4.6 L6.9 2.2" stroke="#fff" stroke-width="1.45" fill="none" stroke-linecap="round" stroke-linejoin="round"/></svg>
<svg style="left:754.10px;top:458.60px" width="9" height="7" viewBox="0 0 9 7"><path d="M2.1 2.2 L4.5 4.6 L6.9 2.2" stroke="#fff" stroke-width="1.45" fill="none" stroke-linecap="round" stroke-linejoin="round"/></svg>
<svg style="left:754.10px;top:533.85px" width="9" height="7" viewBox="0 0 9 7"><path d="M2.1 2.2 L4.5 4.6 L6.9 2.2" stroke="#fff" stroke-width="1.45" fill="none" stroke-linecap="round" stroke-linejoin="round"/></svg>
<svg style="left:754.10px;top:571.55px" width="9" height="7" viewBox="0 0 9 7"><path d="M2.1 2.2 L4.5 4.6 L6.9 2.2" stroke="#fff" stroke-width="1.45" fill="none" stroke-linecap="round" stroke-linejoin="round"/></svg>
<svg style="left:754.10px;top:609.10px" width="9" height="7" viewBox="0 0 9 7"><path d="M2.1 2.2 L4.5 4.6 L6.9 2.2" stroke="#fff" stroke-width="1.45" fill="none" stroke-linecap="round" stroke-linejoin="round"/></svg>
</div></div>
</body></html>
